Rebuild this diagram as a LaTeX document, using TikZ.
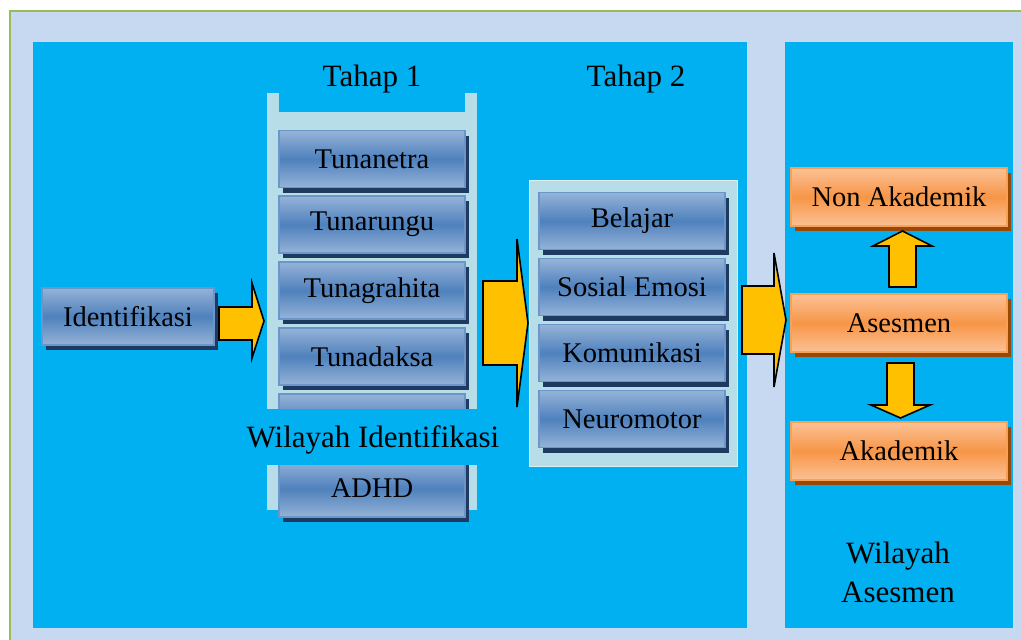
\documentclass[tikz,border=0pt]{standalone}
\usepackage{fontspec}
\setmainfont{Liberation Serif}
\usetikzlibrary{shadows}
\definecolor{bglight}{HTML}{C6D9F1}
\definecolor{framegreen}{HTML}{9BBB59}
\definecolor{panel}{HTML}{00B0F0}
\definecolor{contfill}{HTML}{B7DEE8}
\definecolor{contedge}{HTML}{DAEEF3}
\definecolor{boxmid}{HTML}{4F81BD}
\definecolor{boxlight}{HTML}{95B3D7}
\definecolor{boxedge}{HTML}{6C95CA}
\definecolor{navy}{HTML}{1F3A60}
\definecolor{orgmid}{HTML}{F79646}
\definecolor{orglight}{HTML}{FBC196}
\definecolor{orgedge}{HTML}{F7A05A}
\definecolor{brown}{HTML}{984807}
\definecolor{arrowyellow}{HTML}{FFC000}
\begin{document}
\begin{tikzpicture}[x=1pt,y=-1pt,
  font=\fontsize{28.5}{33}\selectfont,
  bluebox/.style={draw=boxedge, line width=1.6pt, top color=boxlight, bottom color=boxlight, middle color=boxmid,
    minimum width=186pt, minimum height=57pt, inner sep=0pt,
    drop shadow={shadow xshift=4pt, shadow yshift=-5pt, fill=navy, opacity=1}},
  orangebox/.style={draw=orgedge, line width=1.6pt, top color=orglight, bottom color=orglight, middle color=orgmid,
    minimum width=216pt, minimum height=58pt, inner sep=0pt,
    drop shadow={shadow xshift=4pt, shadow yshift=-5pt, fill=brown, opacity=1}},
  blockarrow/.style={draw=black, fill=arrowyellow, line width=1.6pt, line join=miter},
  plaintext/.style={inner sep=0pt},
  bigtext/.style={font=\fontsize{31}{39}\selectfont}]
\useasboundingbox (0,0) rectangle (1021,640);
\fill[white] (0,0) rectangle (1021,640);
% outer frame
\filldraw[fill=bglight, draw=framegreen, line width=2pt] (10,11) rectangle (1040,660);
% panels
\fill[panel] (33,42) rectangle (747,628);
\fill[panel] (785,42) rectangle (1013,628);
% headings
\node[plaintext, bigtext] (tahap1) at (372,79) {Tahap 1};
\node[plaintext, bigtext] (tahap2) at (636,79) {Tahap 2};
% stage 1 container
\fill[contfill] (267,112) rectangle (477,510);
\fill[contfill] (267,93) rectangle (279,112);
\fill[contfill] (465,93) rectangle (477,112);
% stage 2 container
\filldraw[fill=contfill, draw=contedge, line width=1pt] (529,180) rectangle (737,466);
% left node
\node[bluebox, minimum width=172pt] (ident) at (128,316.5) {Identifikasi};
% stage 1 boxes
\node[bluebox] (s1a) at (372,159) {Tunanetra};
\node[bluebox] (s1b) at (372,224.5) {Tunarungu};
\node[bluebox] (s1c) at (372,290.5) {Tunagrahita};
\node[bluebox] (s1d) at (372,356.5) {Tunadaksa};
\node[bluebox] (s1e) at (372,422.5) {};
\node[bluebox] (s1f) at (372,488.5) {ADHD};
\fill[panel] (245,409) rectangle (502,465);
\node[plaintext, bigtext] (wid) at (373,440) {Wilayah Identifikasi};
% stage 2 boxes
\node[bluebox] (s2a) at (632,221) {Belajar};
\node[bluebox] (s2b) at (632,287) {Sosial Emosi};
\node[bluebox] (s2c) at (632,353) {Komunikasi};
\node[bluebox] (s2d) at (632,419) {Neuromotor};
% assessment boxes
\node[orangebox] (non) at (899,197) {Non Akademik};
\node[orangebox] (ases) at (899,323) {Asesmen};
\node[orangebox] (akad) at (899,451) {Akademik};
% block arrows
\draw[blockarrow] (219,307) -- (252,307) -- (252,283) -- (264,321) -- (252,358) -- (252,340) -- (219,340) -- cycle;
\draw[blockarrow] (483,281) -- (517,281) -- (517,239) -- (528,323) -- (517,407) -- (517,365) -- (483,365) -- cycle;
\draw[blockarrow] (742,286) -- (774,286) -- (774,253) -- (786,320) -- (774,387) -- (774,354) -- (742,354) -- cycle;
\draw[blockarrow] (889,287) -- (889,246) -- (873,246) -- (902.5,231) -- (932,246) -- (916,246) -- (916,287) -- cycle;
\draw[blockarrow] (887,363) -- (914,363) -- (914,405) -- (930,405) -- (900.5,418) -- (871,405) -- (887,405) -- cycle;
% assessment label
\node[plaintext, align=center, bigtext] (wase) at (898,572) {Wilayah\\Asesmen};
\end{tikzpicture}
\end{document}
